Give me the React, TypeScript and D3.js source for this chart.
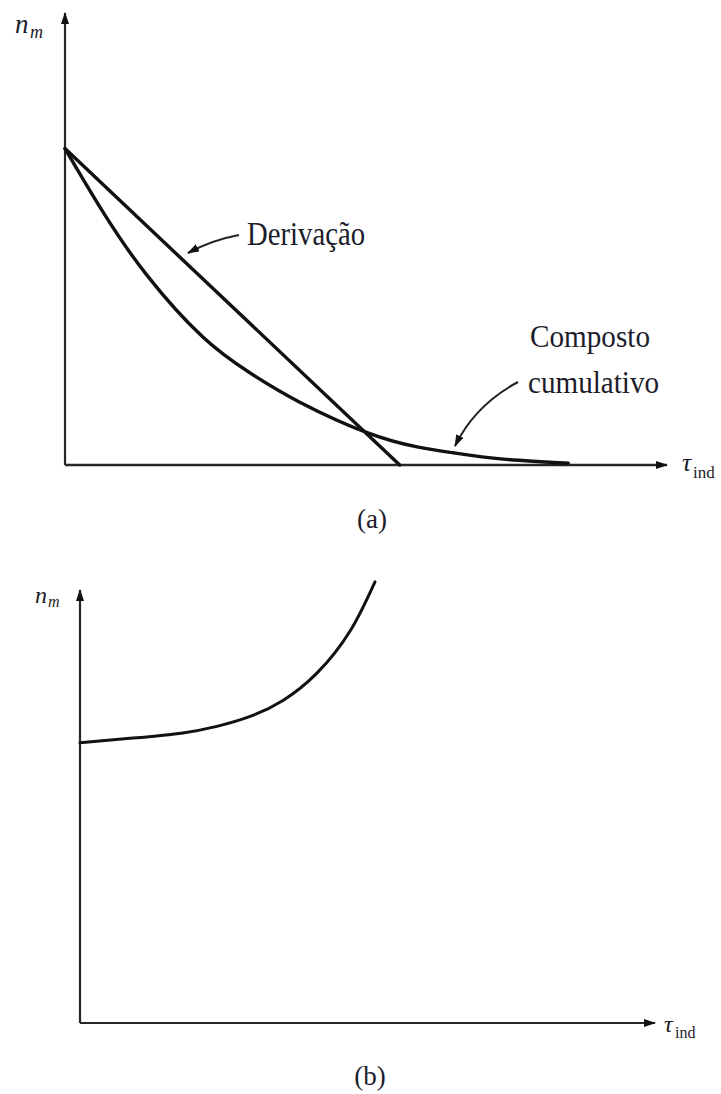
import React from "react";
import * as d3 from "d3";

// Panel (a): induction time on the x axis, n_m on the y axis (arbitrary units 0..10)
const derivTau = [0, 5.56];
const derivN = [7.0, 0];

const cumTau = [0, 0.63, 1.36, 2.29, 3.07, 3.9, 5.03, 5.85, 6.45, 7.28, 8.36];
const cumN = [7.0, 5.6, 4.2, 2.83, 2.04, 1.39, 0.71, 0.4, 0.27, 0.13, 0.04];

// Panel (b)
const bTau = [0, 0.92, 1.79, 2.38, 2.96, 3.53, 4.12, 4.7, 5.13];
const bN = [6.47, 6.58, 6.7, 6.85, 7.08, 7.45, 8.08, 9.06, 10.19];

const captionA = "(a)";
const captionB = "(b)";
const labelDeriv = "Derivação";
const labelCum1 = "Composto";
const labelCum2 = "cumulativo";

const W = 721;
const H = 1094;
const serif = "'Liberation Serif', 'Times New Roman', serif";
const textColor = "#1c1c2a";

type Pt = [number, number];

export default function App() {
  // scales for panel (a)
  const xa = d3.scaleLinear().domain([0, 10]).range([65, 667]);
  const ya = d3.scaleLinear().domain([0, 10]).range([465, 13]);
  // scales for panel (b)
  const xb = d3.scaleLinear().domain([0, 10]).range([80, 655]);
  const yb = d3.scaleLinear().domain([0, 10]).range([1023, 590]);

  const lineA = d3
    .line<Pt>()
    .x((d) => xa(d[0]))
    .y((d) => ya(d[1]))
    .curve(d3.curveNatural);
  const lineB = d3
    .line<Pt>()
    .x((d) => xb(d[0]))
    .y((d) => yb(d[1]))
    .curve(d3.curveNatural);
  const straight = d3
    .line<Pt>()
    .x((d) => xa(d[0]))
    .y((d) => ya(d[1]));

  const derivPts: Pt[] = derivTau.map((t, i) => [t, derivN[i]]);
  const cumPts: Pt[] = cumTau.map((t, i) => [t, cumN[i]]);
  const bPts: Pt[] = bTau.map((t, i) => [t, bN[i]]);

  const axisStroke = "#262626";

  return (
    <svg
      width={W}
      height={H}
      viewBox={`0 0 ${W} ${H}`}
      style={{ position: "absolute", left: 0, top: 0, background: "#fff" }}
    >
      <defs>
        <marker
          id="axisHead"
          viewBox="0 0 12 8"
          refX="11"
          refY="4"
          markerWidth="12"
          markerHeight="8"
          markerUnits="userSpaceOnUse"
          orient="auto"
        >
          <path d="M0,0 L12,4 L0,8 Z" fill="#111" />
        </marker>
        <marker
          id="noteHead"
          viewBox="0 0 12 8"
          refX="11"
          refY="4"
          markerWidth="12"
          markerHeight="8"
          markerUnits="userSpaceOnUse"
          orient="auto"
        >
          <path d="M0,0 L12,4 L0,8 Z" fill="#111" />
        </marker>
      </defs>

      {/* ---------- Panel (a) ---------- */}
      <line
        x1={xa(0)}
        y1={ya(0)}
        x2={xa(0)}
        y2={ya(10)}
        stroke={axisStroke}
        strokeWidth={2.2}
        markerEnd="url(#axisHead)"
      />
      <line
        x1={xa(0)}
        y1={ya(0)}
        x2={xa(10)}
        y2={ya(0)}
        stroke={axisStroke}
        strokeWidth={2.4}
        markerEnd="url(#axisHead)"
      />
      <path d={straight(derivPts) ?? ""} fill="none" stroke="#111" strokeWidth={3.4} strokeLinecap="round" />
      <path d={lineA(cumPts) ?? ""} fill="none" stroke="#111" strokeWidth={3.4} strokeLinecap="round" />

      {/* annotation arrows */}
      <path
        d="M239,235 Q212,240 188,253"
        fill="none"
        stroke="#222"
        strokeWidth={2}
        markerEnd="url(#noteHead)"
      />
      <path
        d="M518,382 Q475,405 455,446"
        fill="none"
        stroke="#222"
        strokeWidth={2}
        markerEnd="url(#noteHead)"
      />

      <text x={247} y={245} fontFamily={serif} fontSize={33} fill={textColor} textLength={118} lengthAdjust="spacingAndGlyphs">
        {labelDeriv}
      </text>
      <text x={530} y={347} fontFamily={serif} fontSize={32} fill={textColor} textLength={120} lengthAdjust="spacingAndGlyphs">
        {labelCum1}
      </text>
      <text x={528} y={393} fontFamily={serif} fontSize={32} fill={textColor} textLength={131} lengthAdjust="spacingAndGlyphs">
        {labelCum2}
      </text>

      {/* axis labels (a) */}
      <text x={15} y={33} fontFamily={serif} fontStyle="italic" fontSize={27} fill={textColor}>
        n
      </text>
      <text x={30} y={38} fontFamily={serif} fontStyle="italic" fontSize={18} fill={textColor}>
        m
      </text>
      <text x={682} y={471} fontFamily={serif} fontStyle="italic" fontSize={26} fill={textColor}>
        τ
      </text>
      <text x={693} y={478} fontFamily={serif} fontSize={17} fill={textColor}>
        ind
      </text>

      <text x={372} y={528} fontFamily={serif} fontSize={27} fill={textColor} textAnchor="middle">
        {captionA}
      </text>

      {/* ---------- Panel (b) ---------- */}
      <line
        x1={xb(0)}
        y1={yb(0)}
        x2={xb(0)}
        y2={yb(10)}
        stroke={axisStroke}
        strokeWidth={2.2}
        markerEnd="url(#axisHead)"
      />
      <line
        x1={xb(0)}
        y1={yb(0)}
        x2={xb(10)}
        y2={yb(0)}
        stroke={axisStroke}
        strokeWidth={2.2}
        markerEnd="url(#axisHead)"
      />
      <path d={lineB(bPts) ?? ""} fill="none" stroke="#111" strokeWidth={3} strokeLinecap="round" />

      <text x={35} y={603} fontFamily={serif} fontStyle="italic" fontSize={24} fill={textColor}>
        n
      </text>
      <text x={48} y={607} fontFamily={serif} fontStyle="italic" fontSize={16} fill={textColor}>
        m
      </text>
      <text x={664} y={1032} fontFamily={serif} fontStyle="italic" fontSize={24} fill={textColor}>
        τ
      </text>
      <text x={675} y={1038} fontFamily={serif} fontSize={16} fill={textColor}>
        ind
      </text>

      <text x={370} y={1085} fontFamily={serif} fontSize={27} fill={textColor} textAnchor="middle">
        {captionB}
      </text>
    </svg>
  );
}
